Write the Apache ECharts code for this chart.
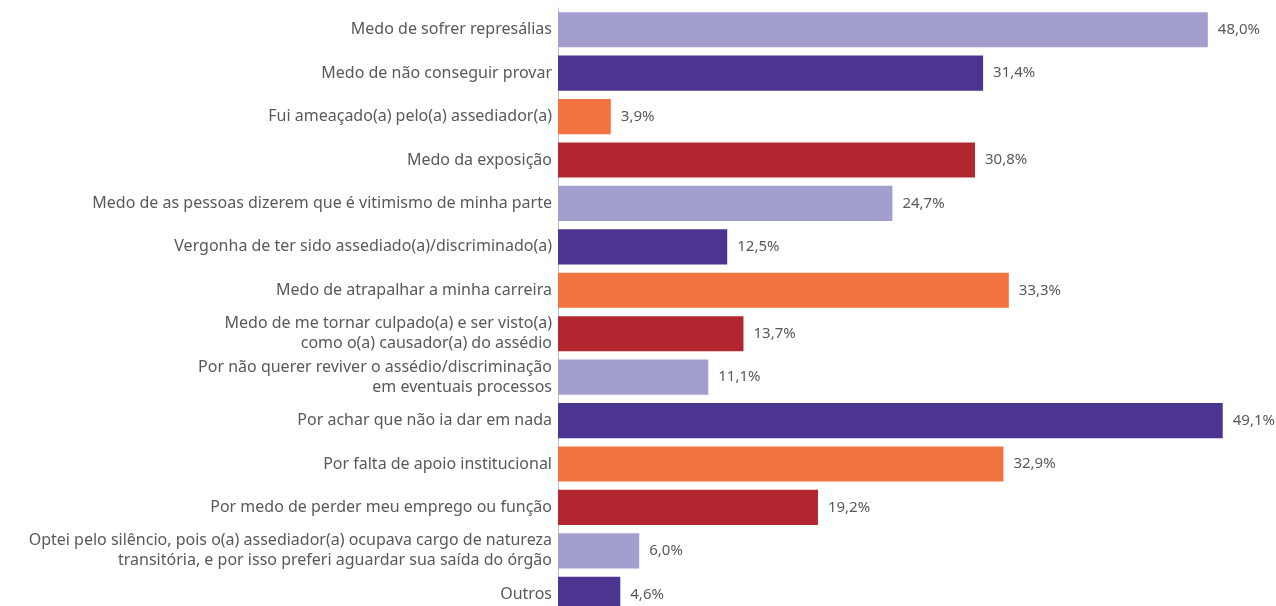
<!DOCTYPE html>
<html><head><meta charset="utf-8">
<script src="https://cdn.jsdelivr.net/npm/echarts@6/dist/echarts.min.js"></script>
<style>html,body{margin:0;padding:0;background:#fff;overflow:hidden}#c{width:1276px;height:620px}</style>
</head><body><div id="c"></div>
<script>
const categories = [
  "Medo de sofrer represálias",
  "Medo de não conseguir provar",
  "Fui ameaçado(a) pelo(a) assediador(a)",
  "Medo da exposição",
  "Medo de as pessoas dizerem que é vitimismo de minha parte",
  "Vergonha de ter sido assediado(a)/discriminado(a)",
  "Medo de atrapalhar a minha carreira",
  "Medo de me tornar culpado(a) e ser visto(a)\ncomo o(a) causador(a) do assédio",
  "Por não querer reviver o assédio/discriminação\nem eventuais processos",
  "Por achar que não ia dar em nada",
  "Por falta de apoio institucional",
  "Por medo de perder meu emprego ou função",
  "Optei pelo silêncio, pois o(a) assediador(a) ocupava cargo de natureza\ntransitória, e por isso preferi aguardar sua saída do órgão",
  "Outros"
];
const values = [48.0, 31.4, 3.9, 30.8, 24.7, 12.5, 33.3, 13.7, 11.1, 49.1, 32.9, 19.2, 6.0, 4.6];
const palette = ["#a29fcf", "#4b3591", "#f37340", "#b22630"];

const chart = echarts.init(document.getElementById('c'), null, {renderer: 'canvas'});
chart.setOption({
  animation: false,
  grid: {left: 558, width: 704, top: 8, height: 608, containLabel: false, outerBoundsMode: 'none'},
  xAxis: {type: 'value', min: 0, max: 52, show: false},
  yAxis: {
    type: 'category', data: categories, inverse: true,
    axisLine: {show: true, lineStyle: {color: '#bfbfbf', width: 1}},
    axisTick: {show: false},
    axisLabel: {color: '#595959', fontFamily: 'Noto Sans', fontSize: 16, lineHeight: 20, margin: 6, align: 'right'}
  },
  series: [{
    type: 'bar', barCategoryGap: '19%',
    data: values.map((v, i) => ({value: v, itemStyle: {color: palette[i % 4]}})),
    label: {show: true, position: 'right', distance: 10, color: '#595959', fontFamily: 'Noto Sans', fontSize: 15,
      formatter: p => p.value.toFixed(1).replace('.', ',') + '%'}
  }]
});
</script></body></html>
